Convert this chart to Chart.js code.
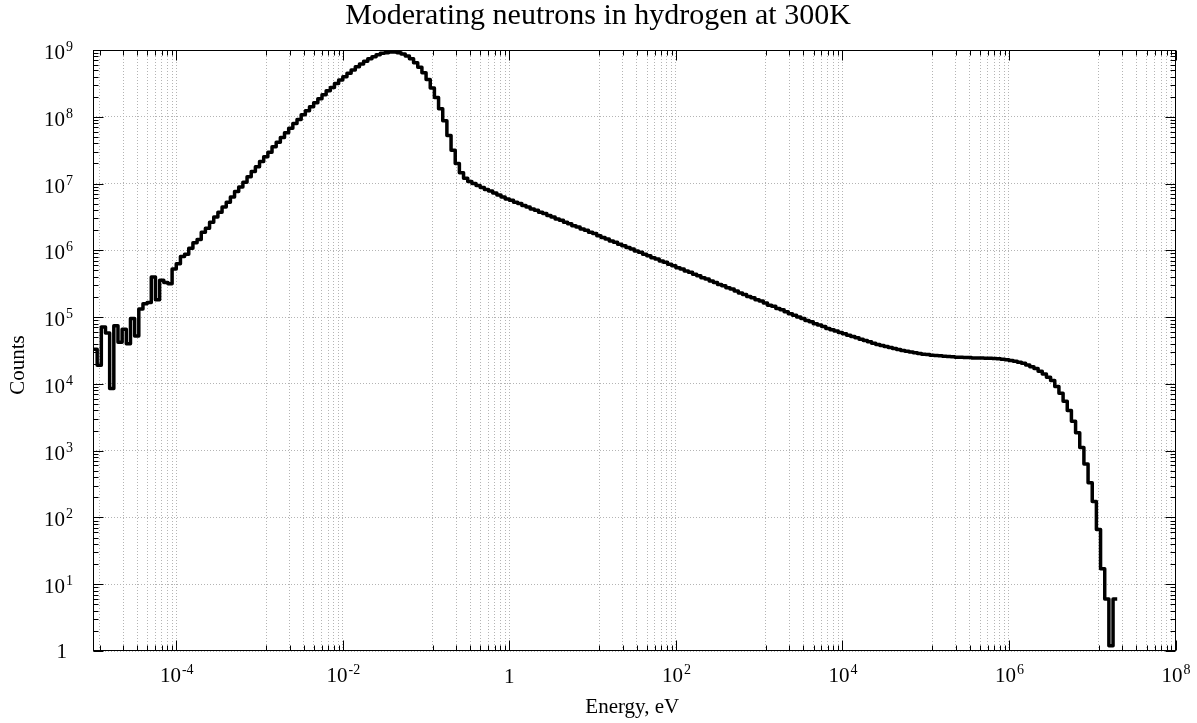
<!DOCTYPE html>
<html lang="en">
<head>
<meta charset="UTF-8">
<title>Moderating neutrons in hydrogen at 300K</title>
<script src="https://cdn.jsdelivr.net/npm/chart.js@4"></script>
<style>
  body { margin: 0; background: #fff; }
</style>
</head>
<body>
<canvas id="chart" width="1197" height="723"></canvas>
<script>
// histogram binning: log-spaced bins, 20 per decade, first edge at 1e-5 eV
const binStartExp = -5;
const binsPerDecade = 20;

// counts per bin, one row per decade of energy
const counts = [
  // 1e-5 .. 1e-4
  3.3e4, 1.9e4, 7.1e4, 5.8e4, 8.5e3, 7.4e4, 4.2e4, 6.6e4, 4.0e4, 9.5e4,
  5.2e4, 1.32e5, 1.58e5, 1.66e5, 4.0e5, 1.82e5, 3.55e5, 3.3e5, 3.16e5, 5.25e5,
  // 1e-4 .. 1e-3
  6.3e5, 8.1e5, 8.7e5, 1.07e6, 1.3e6, 1.45e6, 1.86e6, 2.14e6, 2.63e6, 3.16e6,
  3.72e6, 4.47e6, 5.25e6, 6.31e6, 7.59e6, 8.91e6, 1.05e7, 1.26e7, 1.51e7, 1.78e7,
  // 1e-3 .. 1e-2
  2.14e7, 2.51e7, 2.95e7, 3.55e7, 4.17e7, 4.9e7, 5.75e7, 6.76e7, 7.94e7, 9.12e7,
  1.07e8, 1.23e8, 1.41e8, 1.62e8, 1.86e8, 2.14e8, 2.45e8, 2.75e8, 3.16e8, 3.55e8,
  // 1e-2 .. 1e-1
  3.98e8, 4.47e8, 5.01e8, 5.62e8, 6.17e8, 6.76e8, 7.41e8, 7.94e8, 8.51e8, 8.91e8,
  9.12e8, 9.33e8, 9.33e8, 9.12e8, 8.71e8, 8.13e8, 7.41e8, 6.46e8, 5.5e8, 4.57e8,
  // 1e-1 .. 1
  3.63e8, 2.69e8, 1.95e8, 1.32e8, 8.71e7, 5.25e7, 3.16e7, 2.0e7, 1.45e7, 1.2e7,
  1.07e7, 1.0e7, 9.33e6, 8.71e6, 8.13e6, 7.76e6, 7.24e6, 6.76e6, 6.31e6, 5.89e6,
  // 1 .. 10
  5.62e6, 5.25e6, 5.01e6, 4.68e6, 4.47e6, 4.17e6, 3.98e6, 3.72e6, 3.55e6, 3.31e6,
  3.16e6, 2.95e6, 2.82e6, 2.63e6, 2.51e6, 2.34e6, 2.24e6, 2.09e6, 2.0e6, 1.86e6,
  // 10 .. 100
  1.78e6, 1.66e6, 1.55e6, 1.48e6, 1.38e6, 1.32e6, 1.23e6, 1.17e6, 1.1e6, 1.05e6,
  9.77e5, 9.33e5, 8.71e5, 8.32e5, 7.76e5, 7.41e5, 6.92e5, 6.61e5, 6.17e5, 5.89e5,
  // 100 .. 1e3
  5.5e5, 5.25e5, 4.9e5, 4.68e5, 4.37e5, 4.17e5, 3.89e5, 3.72e5, 3.47e5, 3.31e5,
  3.09e5, 2.95e5, 2.75e5, 2.63e5, 2.45e5, 2.29e5, 2.19e5, 2.04e5, 1.95e5, 1.82e5,
  // 1e3 .. 1e4
  1.74e5, 1.62e5, 1.51e5, 1.45e5, 1.35e5, 1.29e5, 1.2e5, 1.12e5, 1.07e5, 1.0e5,
  9.55e4, 8.91e4, 8.51e4, 7.94e4, 7.59e4, 7.24e4, 6.76e4, 6.46e4, 6.17e4, 5.89e4,
  // 1e4 .. 1e5
  5.62e4, 5.37e4, 5.13e4, 4.9e4, 4.68e4, 4.47e4, 4.27e4, 4.07e4, 3.89e4, 3.76e4,
  3.63e4, 3.51e4, 3.39e4, 3.27e4, 3.16e4, 3.09e4, 2.99e4, 2.92e4, 2.85e4, 2.79e4,
  // 1e5 .. 1e6
  2.75e4, 2.69e4, 2.66e4, 2.63e4, 2.6e4, 2.57e4, 2.54e4, 2.51e4, 2.51e4, 2.48e4,
  2.48e4, 2.45e4, 2.45e4, 2.45e4, 2.43e4, 2.43e4, 2.4e4, 2.37e4, 2.34e4, 2.29e4,
  // 1e6 .. 1e7
  2.24e4, 2.19e4, 2.11e4, 2.04e4, 1.91e4, 1.8e4, 1.7e4, 1.55e4, 1.41e4, 1.26e4,
  1.12e4, 9.12e3, 7.24e3, 5.5e3, 3.98e3, 2.75e3, 1.86e3, 1.12e3, 631, 331,
  // 1e7 ..
  174, 66, 17, 6, 1.2, 6
];

// axis ticks (gnuplot style: labelled majors every 2 decades)
const xMajorExp = [-4, -2, 0, 2, 4, 6, 8];
const xMinorExp = [-5, -3, -1, 1, 3, 5, 7];
const xMinorMult = [1.2, 2.3, 3.4, 4.5, 5.6, 6.7, 7.8, 8.9];
const yMajorExp = [0, 1, 2, 3, 4, 5, 6, 7, 8, 9];
const yMinorMult = [2, 3, 4, 5, 6, 7, 8, 9];

const titleText = 'Moderating neutrons in hydrogen at 300K';
const xTitle = 'Energy, eV';
const yTitle = 'Counts';

const FONT = '"Liberation Serif", "Times New Roman", serif';

// histogram points at left bin edges, plus closing point at last right edge
const points = counts.map((c, i) => ({ x: Math.pow(10, binStartExp + i / binsPerDecade), y: c }));
points.push({ x: Math.pow(10, binStartExp + counts.length / binsPerDecade), y: counts[counts.length - 1] });

const xMinorVals = [];
xMinorExp.forEach(e => xMinorMult.forEach(m => xMinorVals.push(m * Math.pow(10, e))));
const xMajorVals = xMajorExp.map(e => Math.pow(10, e));
const yMajorVals = yMajorExp.map(e => Math.pow(10, e));
const yMinorVals = [];
yMajorExp.slice(0, -1).forEach(e => yMinorMult.forEach(m => yMinorVals.push(m * Math.pow(10, e))));

function drawPow(ctx, exp, x, y, align) {
    // "10" with a raised exponent, or plain "1"
    ctx.textBaseline = 'alphabetic';
    if (exp === 0) {
        ctx.font = '21px ' + FONT;
        ctx.textAlign = align === 'center' ? 'center' : 'right';
        ctx.fillText('1', align === 'center' ? x : x + 2, y + (align === 'center' ? 1 : -2));
        return;
    }
    const sup = String(exp);
    ctx.font = '21px ' + FONT;
    const bw = ctx.measureText('10').width;
    ctx.font = '14px ' + FONT;
    const sw = ctx.measureText(sup).width;
    let left = align === 'center' ? x - (bw + sw) / 2 : x - bw;
    ctx.textAlign = 'left';
    ctx.font = '21px ' + FONT;
    ctx.fillText('10', left, y);
    ctx.font = '14px ' + FONT;
    ctx.fillText(sup, left + bw + 1, y - 8);
}

const frame = {
    id: 'frame',
    afterDraw(chart) {
        const { ctx, chartArea: a, scales: { x, y } } = chart;
        const L = Math.round(a.left) + 0.5, R = Math.round(a.right) - 0.5;
        const T = Math.round(a.top) + 0.5, B = Math.round(a.bottom) - 0.5;
        ctx.save();
        ctx.strokeStyle = '#000';
        ctx.lineWidth = 1;
        ctx.beginPath();
        const xt = (v, len) => {
            const p = Math.round(x.getPixelForValue(v)) + 0.5;
            ctx.moveTo(p, B); ctx.lineTo(p, B - len);
            ctx.moveTo(p, T); ctx.lineTo(p, T + len);
        };
        const yt = (v, len) => {
            const p = Math.round(y.getPixelForValue(v)) + 0.5;
            ctx.moveTo(L, p); ctx.lineTo(L + len, p);
            ctx.moveTo(R, p); ctx.lineTo(R - len, p);
        };
        xMajorVals.forEach(v => xt(v, 10));
        xMinorVals.forEach(v => xt(v, 5));
        yMajorVals.forEach(v => yt(v, 10));
        yMinorVals.forEach(v => yt(v, 5));
        ctx.stroke();
        ctx.strokeRect(L, T, R - L, B - T);

        ctx.fillStyle = '#000';
        xMajorExp.forEach(e => drawPow(ctx, e, x.getPixelForValue(Math.pow(10, e)), 682, 'center'));
        yMajorExp.forEach(e => drawPow(ctx, e, 65, y.getPixelForValue(Math.pow(10, e)) + 9, 'right'));

        ctx.textAlign = 'center';
        ctx.textBaseline = 'alphabetic';
        ctx.font = '30px ' + FONT;
        ctx.fillText(titleText, 598, 24);
        ctx.font = '21px ' + FONT;
        ctx.fillText(xTitle, (a.left + a.right) / 2 - 2, 713);
        ctx.translate(24, 365);
        ctx.rotate(-Math.PI / 2);
        ctx.fillText(yTitle, 0, 0);
        ctx.restore();
    }
};

new Chart(document.getElementById('chart'), {
    type: 'line',
    data: {
        datasets: [{
            data: points,
            stepped: 'before',
            borderColor: '#000',
            borderWidth: 3.5,
            borderJoinStyle: 'round',
            borderCapStyle: 'butt',
            pointRadius: 0,
            fill: false
        }]
    },
    options: {
        responsive: false,
        animation: false,
        layout: { padding: { left: 93, right: 21.5, top: 50, bottom: 72 } },
        plugins: { legend: { display: false }, tooltip: { enabled: false } },
        scales: {
            x: {
                type: 'logarithmic',
                min: 1e-5,
                max: 1e8,
                afterBuildTicks: s => { s.ticks = xMajorVals.concat(xMinorVals).map(v => ({ value: v })); },
                ticks: { display: false },
                grid: { color: '#b4b4b4', lineWidth: 1, drawTicks: false },
                border: { display: false, dash: [1, 2] }
            },
            y: {
                type: 'logarithmic',
                min: 1,
                max: 1e9,
                afterBuildTicks: s => { s.ticks = yMajorVals.map(v => ({ value: v })); },
                ticks: { display: false },
                grid: { color: '#b4b4b4', lineWidth: 1, drawTicks: false },
                border: { display: false, dash: [1, 2] }
            }
        }
    },
    plugins: [frame]
});
</script>
</body>
</html>
